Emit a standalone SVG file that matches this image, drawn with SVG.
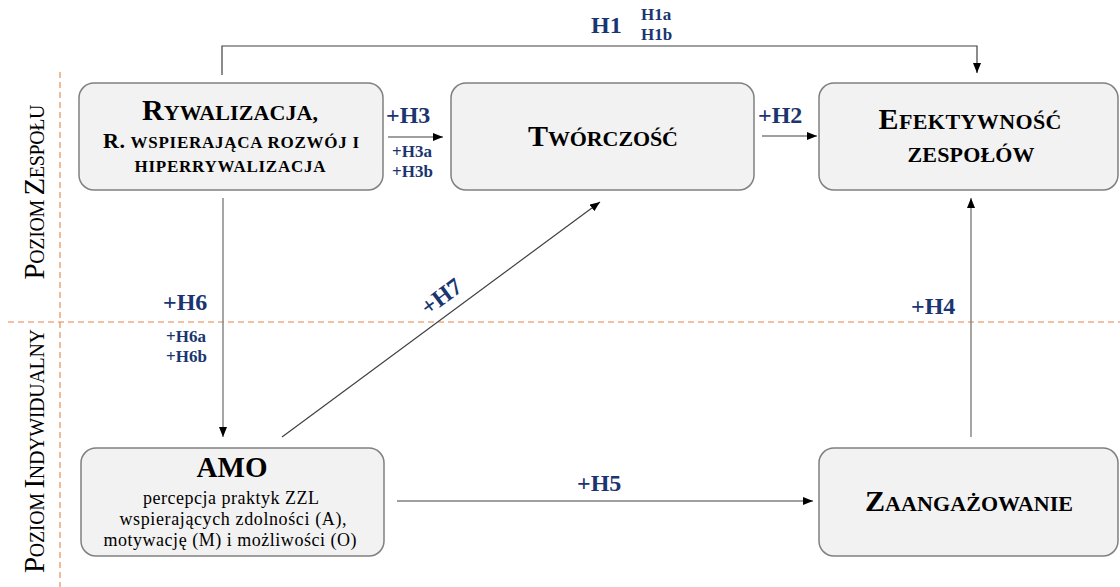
<svg xmlns="http://www.w3.org/2000/svg" width="1120" height="587" viewBox="0 0 1120 587">
<style>
.box{fill:#f2f2f2;stroke:#808080;stroke-width:1.5}
.t{font-family:"Liberation Serif","Times New Roman",serif;font-weight:bold;fill:#000;text-anchor:middle}
.b{font-family:"Liberation Serif","Times New Roman",serif;fill:#000;text-anchor:middle;font-size:18px}
.lbl{font-family:"Liberation Serif","Times New Roman",serif;font-weight:bold;fill:#1a3570}
.side{font-family:"Liberation Serif","Times New Roman",serif;fill:#000;text-anchor:middle}
.c{fill:none;stroke:#404040;stroke-width:1.2}
.cg{fill:none;stroke:#808080;stroke-width:1.4}
.dash{fill:none;stroke:#e4834a;stroke-width:1.1;stroke-dasharray:6 4}
</style>
<defs>
<marker id="ah" markerWidth="10" markerHeight="8" refX="10" refY="4" orient="auto" markerUnits="userSpaceOnUse">
<path d="M0,0 L10,4 L0,8 z" fill="#000"/>
</marker>
</defs>
<rect width="1120" height="587" fill="#fff"/>
<g id="levels">
<line class="dash" x1="60" y1="72" x2="60" y2="587"/>
<line class="dash" x1="8" y1="322" x2="1120" y2="322"/>
<text class="side" transform="translate(44,192) rotate(-90)" textLength="175" lengthAdjust="spacing"><tspan font-size="29">P</tspan><tspan font-size="20">OZIOM </tspan><tspan font-size="29">Z</tspan><tspan font-size="20">ESPOŁU</tspan></text>
<text class="side" transform="translate(44,451) rotate(-90)" textLength="244" lengthAdjust="spacing"><tspan font-size="29">P</tspan><tspan font-size="20">OZIOM </tspan><tspan font-size="29">I</tspan><tspan font-size="20">NDYWIDUALNY</tspan></text>
</g>
<g id="connectors">
<path class="c" d="M222,75 V46 H977 V73" marker-end="url(#ah)"/>
<line class="c" x1="388" y1="137" x2="443" y2="137" marker-end="url(#ah)"/>
<line class="c" x1="762" y1="136" x2="817" y2="136" marker-end="url(#ah)"/>
<line class="cg" x1="223" y1="198" x2="223" y2="437" marker-end="url(#ah)"/>
<line class="c" x1="282" y1="437" x2="600" y2="202" stroke="#595959" marker-end="url(#ah)"/>
<line class="c" x1="397" y1="501" x2="813" y2="501" marker-end="url(#ah)"/>
<line class="cg" x1="971" y1="437" x2="971" y2="198" marker-end="url(#ah)"/>
<text class="lbl" x="591" y="33" font-size="24">H1</text>
<text class="lbl" x="641" y="20" font-size="17">H1a</text>
<text class="lbl" x="641" y="40" font-size="17">H1b</text>
<text class="lbl" x="386" y="123" font-size="24">+H3</text>
<text class="lbl" x="392" y="157" font-size="17">+H3a</text>
<text class="lbl" x="392" y="177" font-size="17">+H3b</text>
<text class="lbl" x="758" y="123" font-size="24">+H2</text>
<text class="lbl" x="163" y="310" font-size="24">+H6</text>
<text class="lbl" x="166" y="342" font-size="17">+H6a</text>
<text class="lbl" x="166" y="362" font-size="17">+H6b</text>
<text class="lbl" x="911" y="314" font-size="24">+H4</text>
<text class="lbl" x="577" y="491" font-size="24">+H5</text>
<text class="lbl" transform="translate(446,303) rotate(-36.5)" text-anchor="middle" font-size="24">+H7</text>
</g>
<g id="rywalizacja">
<rect class="box" x="79" y="83" width="304" height="107" rx="15"/>
<text class="t" x="230" y="120" textLength="176" lengthAdjust="spacing"><tspan font-size="30">R</tspan><tspan font-size="22">YWALIZACJA,</tspan></text>
<text class="t" x="231" y="148" textLength="256" lengthAdjust="spacing"><tspan font-size="22">R.</tspan><tspan font-size="17"> WSPIERAJĄCA ROZWÓJ I</tspan></text>
<text class="t" x="230" y="172" font-size="17" textLength="191" lengthAdjust="spacing">HIPERRYWALIZACJA</text>
</g>
<g id="tworczosc">
<rect class="box" x="451" y="83" width="303" height="107" rx="15"/>
<text class="t" x="603" y="146" textLength="150" lengthAdjust="spacing"><tspan font-size="30">T</tspan><tspan font-size="22">WÓRCZOŚĆ</tspan></text>
</g>
<g id="efektywnosc">
<rect class="box" x="819" y="83" width="299" height="107" rx="15"/>
<text class="t" x="970" y="129" textLength="183" lengthAdjust="spacing"><tspan font-size="30">E</tspan><tspan font-size="22">FEKTYWNOŚĆ</tspan></text>
<text class="t" x="971" y="162" font-size="22" textLength="127" lengthAdjust="spacing">ZESPOŁÓW</text>
</g>
<g id="amo">
<rect class="box" x="81" y="448" width="303" height="108" rx="15"/>
<text class="t" x="232" y="477" font-size="29">AMO</text>
<text class="b" x="231" y="504" textLength="176" lengthAdjust="spacing">percepcja praktyk ZZL</text>
<text class="b" x="233" y="525" textLength="227" lengthAdjust="spacing">wspierających zdolności (A),</text>
<text class="b" x="230" y="546" textLength="253" lengthAdjust="spacing">motywację (M) i możliwości (O)</text>
</g>
<g id="zaangazowanie">
<rect class="box" x="819" y="448" width="299" height="108" rx="15"/>
<text class="t" x="969" y="511" textLength="208" lengthAdjust="spacing"><tspan font-size="30">Z</tspan><tspan font-size="22">AANGAŻOWANIE</tspan></text>
</g>
</svg>
